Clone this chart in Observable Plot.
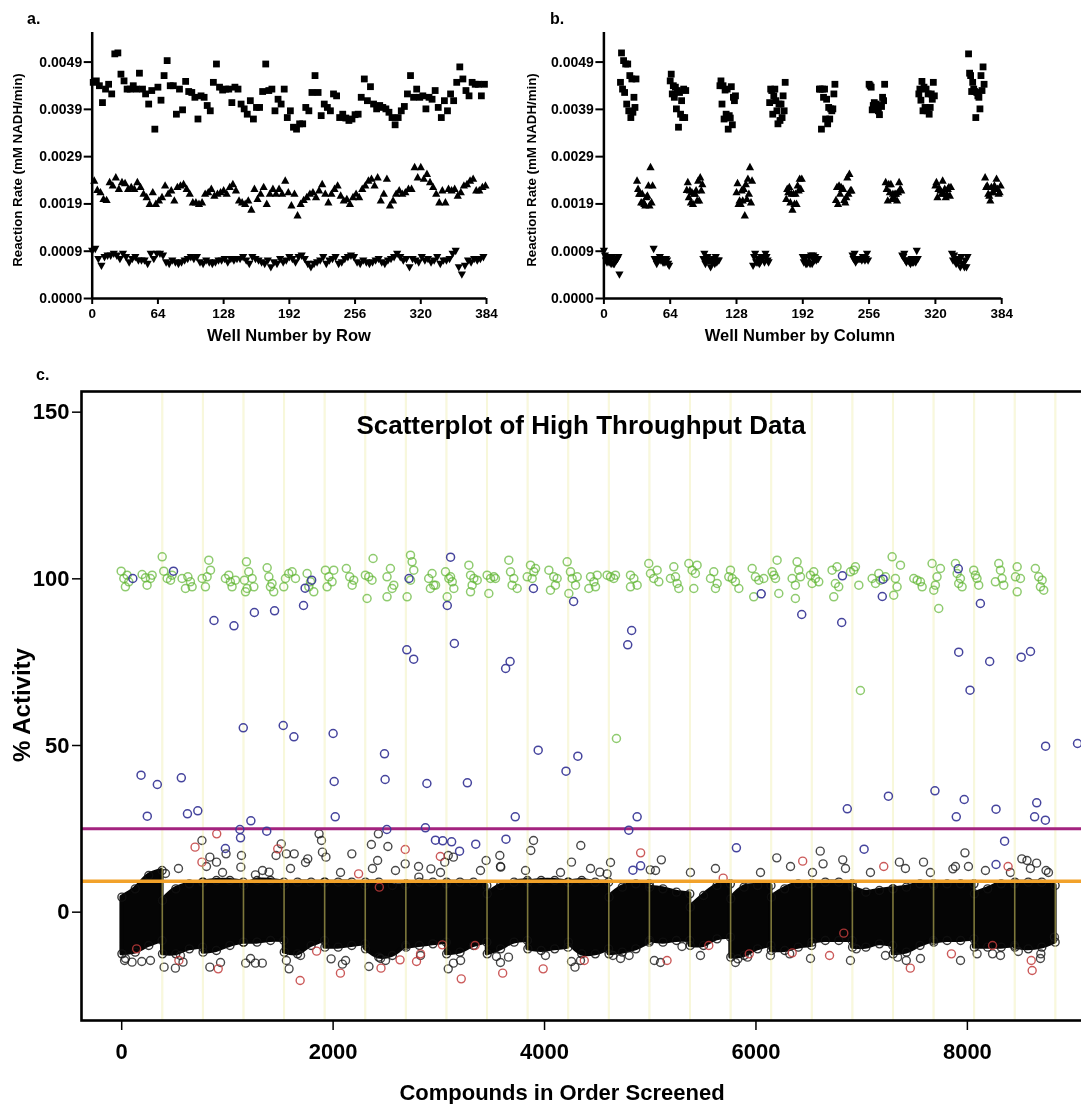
<!DOCTYPE html>
<html><head><meta charset="utf-8">
<script src="https://cdn.jsdelivr.net/npm/d3@7"></script>
<script src="https://cdn.jsdelivr.net/npm/@observablehq/plot@0.6"></script>
<style>
html,body{margin:0;padding:0;background:#fff;}
#root{position:relative;width:1081px;height:1104px;overflow:hidden;background:#fff;}
</style></head>
<body><div id="root"></div>
<script>
// ---------- Panels a & b: control plate (384 wells, 3 control types) ----------
const rateTicks = [0, 0.00098, 0.00196, 0.00294, 0.00392, 0.0049];
const rateTickLabels = ["0.0000","0.0009","0.0019","0.0029","0.0039","0.0049"];
const wellTicks = [0, 64, 128, 192, 256, 320, 384];

// high control (squares), wells 1,4,7,... in row order
const highControl = [
.00448,.00451,.00441,.00406,.00434,.00444,.00424,.00507,.00509,.00465,
.00451,.00434,.00434,.00441,.00434,.00467,.00434,.00424,.00403,.00431,
.00351,.00438,.00411,.00462,.00493,.00441,.00441,.00382,.00434,.00391,
.00450,.00429,.00427,.00417,.00372,.00420,.00417,.00400,.00389,.00448,
.00486,.00438,.00432,.00434,.00434,.00406,.00438,.00434,.00403,.00393,
.00382,.00410,.00372,.00396,.00396,.00429,.00486,.00431,.00434,.00389,
.00413,.00403,.00434,.00375,.00389,.00355,.00351,.00362,.00362,.00396,
.00389,.00427,.00462,.00427,.00379,.00403,.00396,.00389,.00424,.00420,
.00375,.00382,.00374,.00369,.00372,.00381,.00382,.00417,.00455,.00410,
.00439,.00403,.00393,.00400,.00396,.00393,.00386,.00375,.00360,.00375,
.00389,.00398,.00424,.00462,.00417,.00434,.00417,.00420,.00393,.00417,
.00413,.00431,.00396,.00375,.00410,.00389,.00424,.00410,.00448,.00480,
.00455,.00431,.00420,.00448,.00444,.00444,.00420,.00444];
// mid control (triangles), wells 2,5,8,...
const midControl = [
.00244,.00225,.00220,.00206,.00204,.00241,.00234,.00251,.00227,.00241,
.00239,.00227,.00231,.00227,.00241,.00231,.00217,.00210,.00196,.00220,
.00196,.00203,.00210,.00234,.00217,.00224,.00203,.00231,.00234,.00237,
.00227,.00217,.00199,.00199,.00196,.00199,.00217,.00220,.00227,.00213,
.00217,.00220,.00224,.00217,.00231,.00237,.00224,.00203,.00199,.00196,
.00203,.00184,.00227,.00206,.00217,.00231,.00196,.00217,.00227,.00217,
.00227,.00217,.00244,.00220,.00193,.00217,.00172,.00196,.00204,.00210,
.00217,.00220,.00210,.00224,.00237,.00217,.00199,.00217,.00227,.00234,
.00213,.00203,.00206,.00196,.00210,.00217,.00210,.00227,.00234,.00244,
.00248,.00234,.00251,.00203,.00217,.00248,.00193,.00203,.00217,.00224,
.00217,.00220,.00227,.00227,.00272,.00251,.00272,.00248,.00258,.00241,
.00231,.00217,.00199,.00224,.00199,.00227,.00224,.00227,.00213,.00220,
.00234,.00237,.00244,.00248,.00224,.00224,.00231,.00234];
// low control (inverted triangles), wells 0,3,6,...
const lowControl = [
.00099,.00103,.00082,.00068,.00086,.00089,.00089,.00093,.00089,.00082,
.00093,.00086,.00075,.00082,.00086,.00079,.00079,.00079,.00072,.00093,
.00082,
.00093,.00093,.00089,.00075,.00072,.00079,.00075,.00072,.00075,.00079,
.00082,.00086,.00082,.00086,.00075,.00072,.00079,.00075,.00072,.00075,
.00079,
.00079,.00082,.00075,.00082,.00079,.00082,.00082,.00086,.00079,.00072,
.00086,.00082,.00079,.00075,.00072,.00079,.00065,.00075,.00072,.00082,
.00075,
.00079,.00086,.00082,.00075,.00086,.00089,.00082,.00072,.00065,.00072,
.00075,.00079,.00086,.00072,.00079,.00082,.00086,.00072,.00075,.00082,
.00086,
.00089,.00086,.00075,.00072,.00079,.00075,.00072,.00075,.00079,.00082,
.00075,.00072,.00079,.00082,.00086,.00093,.00086,.00079,.00082,.00065,
.00082,
.00079,.00075,.00086,.00079,.00082,.00075,.00079,.00086,.00072,.00079,
.00079,
.00082,.00093,.00099,.00065,.00050,.00068,.00079,.00075,.00082,.00079,
.00082,.00086];

// ---------- Panel c: high-throughput screen ----------
const activityTicks = [0, 50, 100, 150];
const compoundTicks = [0, 2000, 4000, 6000, 8000];
const plateBoundaries = [384,768,1152,1536,1920,2304,2688,3072,3456,3840,4224,4608,4992,5376,5760,6144,6528,6912,7296,7680,8064,8448,8832];
const hitThreshold = 25;     // magenta line
const meanPlus3SD = 9.3;     // orange line

// dense compound cloud: [compound #, lower edge %, upper edge %]
const cloudBand = [
[2,-12.5,4.5],[128,-12,7],[256,-10,11],[382,-8.5,12.5],
[386,-12.5,3.5],[512,-12.5,7],[640,-11,8.5],[766,-10.5,9],
[770,-12,9],[896,-11.5,9.5],[1024,-10,9.5],[1150,-9,9],
[1154,-9,8],[1280,-9,9.5],[1408,-8.5,9.5],[1534,-8.5,9],
[1538,-12,8],[1664,-12.5,9],[1792,-10,9],[1918,-8.5,9],
[1922,-10.5,9],[2048,-10.5,9],[2176,-10,9],[2302,-9.5,8],
[2306,-11,9],[2432,-13.5,9],[2560,-13,8],[2686,-10,8],
[2690,-10.5,8.5],[2816,-10,9],[2944,-9.5,9],[3070,-9,8.5],
[3074,-12.5,9],[3200,-12,9],[3328,-10,9],[3454,-9,8],
[3458,-12.5,5.5],[3584,-11,8],[3712,-9,9],[3838,-8.5,9.5],
[3842,-11,9],[3968,-11.5,9.5],[4096,-11,9.5],[4222,-10.5,9],
[4226,-9,9],[4352,-12.5,9.5],[4480,-12.5,9],[4606,-11,9],
[4610,-12.5,4.5],[4736,-12,7.5],[4864,-11,8.5],[4990,-9,8.5],
[4994,-8.5,7.5],[5120,-9,7],[5248,-8.5,6],[5374,-8.5,5.5],
[5378,-10,1.5],[5504,-10,5],[5632,-8,8],[5758,-7.5,8.5],
[5762,-13.5,4],[5888,-13,7.5],[6016,-11,8],[6142,-10,8],
[6146,-11.5,4.5],[6272,-11.5,7],[6400,-10.5,8.5],[6526,-10,8.5],
[6530,-9,8.5],[6656,-8.5,9],[6784,-8.5,9],[6910,-8.5,8.5],
[6914,-10.5,7.5],[7040,-10.5,6],[7168,-9.5,6.5],[7294,-10,7],
[7298,-12.5,7],[7424,-12,7.5],[7552,-10,8.5],[7678,-8.5,8.5],
[7682,-9,8],[7808,-8.5,8.5],[7936,-8.5,8.5],[8062,-8,8.5],
[8066,-10.5,5.5],[8192,-10.5,7],[8320,-10.5,8.5],[8446,-10,8.5],
[8450,-10.5,9],[8576,-11,9],[8704,-10.5,9],[8830,-9,8]];

// scattered compounds around the dense cloud: [compound #, % activity]
const blackCompounds = [
[759,21.5],[834,16.5],[897,15],[987,17.5],[1133,17],[1127,13.5],[1265,11.2],[1394,12],[1460,17],[1509,20.5],
[1558,17.5],[1632,17.5],[1760,16],[1867,23.5],[1890,21.5],[1899,18],[1932,16.5],[2177,17.5],[2362,20.3],[2428,23.5],
[2421,15.5],[2518,19.7],[2682,14.5],[2811,10.5],[2925,13],[3056,15],[3089,17],[3138,16.5],[3447,15.5],[3577,17],
[3586,13.5],[3870,18.5],[3896,21.5],
[27,-14.5],[98,-15],[190,-14.8],[401,-16.5],[508,-16.8],[580,-15],[834,-16.5],[1173,-15.3],[1265,-15.3],[1330,-15.3],
[1583,-17],[1558,-14.5],[1981,-14],[2088,-15.6],[2339,-16.3],[2496,-14.5],[3089,-17],[3138,-15.3],[3545,-13.3],[3659,-13.5],
[4343,20],[4255,15],[4523,12],[4592,11.5],[5105,15.7],[5000,12.7],[6197,16.3],[6608,18.3],[6635,14.5],[6821,15.7],
[7357,15],[7585,15],[7863,13],[7977,17.8],[8010,13.7],[8515,16],[8564,15.5],[8655,14.7],[8744,12.5],
[4288,-16.5],[4255,-14.8],[4800,-13],[4647,-13],[5038,-14.5],[5300,-10.3],[5829,-14],[5920,-13.5],[6319,-12.5],[6949,-11],
[7340,-13.5],[7422,-14.5],[8092,-12.5],[8238,-12.5],[8482,-11.8],[8695,-12.5],[8824,-7.5],
[414,11.6],[537,13.1],[802,13.7],[954,11.9],[1332,12.5],[1597,13.1],[1739,14.9],[2070,11.9],[2372,13.1],[2590,12.5],
[2808,13.7],[3016,11.9],[3394,12.5],[3583,13.7],[3820,12.5],[4151,11.9],[4435,13.1],[4624,14.9],[5050,12.5],[5380,11.9],
[5617,13.1],[6043,11.9],[6327,13.7],[6535,11.9],[6847,13.1],[7083,11.9],[7414,13.1],[7650,11.9],[7887,13.7],[8171,12.5],
[8407,11.9],[8596,13.1],[8767,11.9],
[36,-13.9],[272,-14.5],[556,-13],[935,-15.1],[1219,-13.9],[1692,-13],[2118,-14.5],[2449,-13.9],[2827,-13],[3206,-14.5],
[3583,-15.1],[4009,-13],[4340,-14.5],[4719,-13.9],[5097,-15.1],[5475,-13],[5806,-15.1],[6137,-13],[6516,-13.9],[6894,-14.5],
[7225,-13],[7556,-13.9],[7935,-14.5],[8313,-13],[8691,-13.9]];

const redCompounds = [
[899,23.5],[694,19.5],[759,15],[1476,19],[2682,18.8],[3014,16.7],[2241,11.5],[2437,7.5],[1688,-20.5],[2069,-18.3],
[2453,-16.8],[2633,-14.3],[3212,-20],[3604,-18.3],[3343,-10],[141,-11],[541,-14.5],[913,-17],[1844,-11.7],[2789,-14.8],
[2827,-12.5],[3033,-9.8],[4909,17.8],[6442,15.3],[7209,13.7],[8385,13.7],[5690,10.2],[5159,-14.5],[4376,-14.5],[3987,-17],
[7460,-16.8],[8613,-17.5],[8604,-14.5],[7849,-12.5],[8238,-10],[6696,-13],[6343,-12.2],[5554,-10],[6831,-6.3],[5937,-12.5]];

const blueCompounds = [
[105,100.1],[490,102.3],[873,87.5],[1062,85.9],[1255,89.9],[1446,90.4],[1720,92],[1735,97.2],[1797,99.6],[2718,100.1],
[3111,106.5],[3080,92],[3147,80.6],[2697,78.7],[2762,75.9],[3674,75.2],[3632,73.1],[3895,97.1],[1150,55.3],[1528,56],
[1629,52.6],[2000,53.6],[183,41.1],[337,38.3],[242,28.8],[564,40.3],[622,29.5],[720,30.4],[1222,27.4],[1118,24.8],
[1124,22.3],[1372,24.3],[981,19.1],[2010,39.2],[2020,28.6],[2486,47.5],[2492,39.8],[2887,38.6],[3270,38.8],[3723,28.6],
[3940,48.6],[2873,25.3],[2508,24.8],[2968,21.6],[3037,21.4],[3121,21.1],[3196,18.3],[3349,20.4],[3635,21.9],
[4275,93.2],[4824,84.5],[4787,80.2],[6050,95.5],[6433,89.3],[6818,100.9],[6811,86.9],[7195,94.7],[7203,99.9],[7914,103],
[8123,92.6],[7918,78],[8211,75.2],[8025,66.6],[8509,76.5],[8597,78.2],[4203,42.3],[4315,46.8],[8740,49.8],[9042,50.6],
[4876,28.6],[4797,24.6],[6864,31],[7253,34.8],[7693,36.4],[7970,33.8],[7895,28.6],[8271,30.9],[8656,32.8],[8636,28.6],
[8738,27.6],[8352,21.3],[5815,19.3],[7023,18.9],[8271,14.3],[4909,13.9],[4836,12.6]];

// positive controls (green)
const greenControls = [
[-5,102.3],[20,100.1],[35,97.6],[67,99.1],[51,101.1],[193,101.3],[225,100.3],[240,98.1],[272,100.1],[288,101.1],
[383,106.6],[398,102.3],[430,100.1],[462,99.6],[476,101.1],[571,100.1],[603,97.1],[626,100.6],[650,99.1],[666,97.6],
[761,100.1],[792,97.6],[824,105.6],[840,102.6],[808,100.6],[981,100.1],[1013,101.1],[1044,97.6],[1076,99.6],[1028,99.1],
[1161,99.6],[1180,105.1],[1202,102.1],[1234,100.1],[1186,97.1],[1250,97.6],[1171,96.1],[1376,103.3],[1392,100.6],[1422,98.6],
[1438,96.1],[1407,97.6],[1549,100.1],[1580,101.6],[1612,102.1],[1533,97.6],[1644,100.1],[1754,101.6],[1786,99.1],[1817,96.1],
[1770,97.6],[1927,102.6],[1959,100.6],[1990,99.1],[2006,102.6],[1943,97.6],[2125,103.1],[2157,100.6],[2180,98.1],[2195,99.6],
[2305,101.1],[2337,100.6],[2368,99.6],[2321,94.1],[2378,106.1],[2510,100.6],[2542,103.1],[2558,97.1],[2574,98.1],[2510,94.6],
[2700,94.6],[2732,107.1],[2747,105.1],[2763,102.6],[2732,99.6],[2904,100.1],[2936,101.6],[2952,98.1],[2920,97.1],[2969,98.1],
[3063,102.1],[3095,100.1],[3127,99.1],[3142,97.1],[3079,94.6],[3111,100.6],[3284,104.1],[3300,101.1],[3331,100.1],[3315,98.1],
[3363,99.6],[3300,96.1],[3457,101.1],[3489,100.1],[3521,100.6],[3473,95.6],[3536,100.1],[3662,105.6],[3678,102.1],[3709,100.1],
[3693,98.1],[3741,97.1],[3836,100.6],[3867,104.1],[3899,102.1],[3883,100.1],[3915,103.1],[4041,102.6],[4087,100.6],[4103,98.1],
[4056,96.6],[4119,100.1],[4214,105.1],[4245,102.1],[4261,100.1],[4293,98.1],[4230,95.6],[4309,100.6],[4435,100.6],[4467,99.1],
[4498,101.1],[4419,97.1],[4482,97.6],[4592,101.1],[4624,100.6],[4655,100.1],[4671,101.1],[4813,101.1],[4845,100.1],[4876,98.1],
[4813,97.6],[4986,104.6],[5002,101.6],[5033,100.1],[5065,102.6],[5081,99.1],[5191,100.1],[5223,103.6],[5254,98.6],[5270,97.1],
[5239,100.6],[5365,104.6],[5396,102.6],[5427,101.6],[5412,97.1],[5443,104.1],[5570,100.1],[5601,102.1],[5633,98.6],[5617,97.1],
[5759,102.6],[5775,100.1],[5806,99.1],[5838,97.1],[5743,100.6],[5964,103.1],[5995,100.6],[6027,99.6],[5979,94.6],[6074,100.1],
[6153,102.1],[6185,100.1],[6200,105.6],[6169,101.1],[6216,95.6],[6342,100.1],[6373,98.1],[6389,105.1],[6405,102.6],[6421,100.6],
[6373,94.1],[6515,101.1],[6547,102.1],[6563,100.1],[6594,99.1],[6531,98.6],[6720,102.6],[6751,98.6],[6767,103.6],[6783,97.6],
[6736,94.6],[6894,102.1],[6941,103.6],[6973,98.1],[6925,102.6],[7099,100.1],[7131,98.6],[7162,101.6],[7178,99.6],[7225,100.6],
[7288,106.6],[7319,100.1],[7335,97.6],[7303,95.1],[7367,104.1],[7493,100.1],[7525,99.6],[7556,99.1],[7572,97.6],[7666,104.6],
[7697,98.1],[7713,100.6],[7745,103.1],[7682,96.6],[7729,91.1],[7887,104.6],[7903,101.6],[7934,100.1],[7950,97.6],[7918,98.6],
[8060,102.6],[8091,100.1],[8107,98.1],[8076,101.1],[8265,99.1],[8297,104.6],[8313,102.6],[8328,100.1],[8344,98.1],[8455,100.6],
[8471,103.6],[8502,100.1],[8471,96.1],[8643,103.1],[8675,100.6],[8707,99.6],[8691,97.6],[8722,96.6],
[6988,66.5],[4680,52.1]];

// ---------- rendering ----------
const FONT = "'Liberation Sans', Arial, Helvetica, sans-serif";
const root = document.getElementById("root");
function place(node, left, top) {
  node.style.position = "absolute"; node.style.left = left + "px"; node.style.top = top + "px";
  root.appendChild(node);
}
function label(text, x, y, size, opts = {}) {
  const d = document.createElement("div");
  d.textContent = text;
  const tx = opts.left ? "0" : "-50%";
  d.style.cssText = `position:absolute;left:${x}px;top:${y}px;font-family:${FONT};font-weight:bold;font-size:${size}px;` +
    `white-space:nowrap;line-height:1;color:#000;transform:translate(${tx},-50%)${opts.rotate ? " rotate(-90deg)" : ""};`;
  root.appendChild(d);
}

// wells in row order: type given by column (col % 3)
const wells = [];
for (let k = 0; k < highControl.length; k++) {
  wells.push({well: 3 * k, value: lowControl[k], type: "low"});
  wells.push({well: 3 * k + 1, value: highControl[k], type: "high"});
  wells.push({well: 3 * k + 2, value: midControl[k], type: "mid"});
}
for (const d of wells) {
  const row = Math.floor(d.well / 24), col = d.well % 24;
  d.byRow = d.well;
  d.byColumn = col * 16 + row;
}

const squareSym = {draw(c) { c.rect(-3.4, -3.4, 6.8, 6.8); }};
const triSym = {draw(c) { c.moveTo(0, -4.4); c.lineTo(4.1, 3); c.lineTo(-4.1, 3); c.closePath(); }};
const invSym = {draw(c) { c.moveTo(0, 4.4); c.lineTo(4.1, -3); c.lineTo(-4.1, -3); c.closePath(); }};

function wellPanel(xKey, width, mLeft, mRight) {
  return Plot.plot({
    width, height: 340, marginLeft: mLeft, marginRight: mRight, marginTop: 32, marginBottom: 42,
    x: {domain: [0, 384], axis: null},
    y: {domain: [0, 0.005513], axis: null},
    style: {fontFamily: FONT, background: "transparent", overflow: "visible"},
    marks: [
      Plot.axisY({ticks: rateTicks, tickFormat: d => rateTickLabels[rateTicks.indexOf(d)], tickSize: 8, tickPadding: 2,
        strokeWidth: 2, fontSize: 14, fontWeight: "bold", label: null}),
      Plot.axisX({ticks: wellTicks, tickFormat: "d", tickSize: 6, tickPadding: 4, strokeWidth: 2,
        fontSize: 13.5, fontWeight: "bold", label: null}),
      Plot.ruleX([0], {stroke: "#000", strokeWidth: 2.5}),
      Plot.ruleY([0], {stroke: "#000", strokeWidth: 2.5}),
      Plot.dot(wells.filter(d => d.type === "high"), {x: xKey, y: "value", symbol: squareSym, fill: "#000", stroke: "none"}),
      Plot.dot(wells.filter(d => d.type === "mid"), {x: xKey, y: "value", symbol: triSym, fill: "#000", stroke: "none"}),
      Plot.dot(wells.filter(d => d.type === "low"), {x: xKey, y: "value", symbol: invSym, fill: "#000", stroke: "none"})
    ]
  });
}

place(wellPanel("byRow", 520, 91.7, 34), 0, 0);
place(wellPanel("byColumn", 561, 83.4, 79.8), 520, 0);

label("a.", 27, 19, 16, {left: true});
label("b.", 550, 19, 16, {left: true});
label("Reaction Rate (mM NADH/min)", 18, 170, 13.3, {rotate: true});
label("Reaction Rate (mM NADH/min)", 532, 170, 13.3, {rotate: true});
label("Well Number by Row", 289, 335, 16.5);
label("Well Number by Column", 800, 335, 16.5);

const cloudEdges = cloudBand.flatMap(d => [[d[0], d[1]], [d[0], d[2]]]);
const plateOf = d => d3.bisectRight(plateBoundaries, d[0]);

const panelC = Plot.plot({
  width: 1081, height: 764,
  marginLeft: 81, marginRight: -4, marginTop: 51, marginBottom: 84,
  x: {domain: [-380.3, 9117.4], axis: null},
  y: {domain: [-32.5, 156.2], axis: null},
  style: {fontFamily: FONT, background: "transparent", overflow: "visible"},
  marks: [
    Plot.ruleX(plateBoundaries, {stroke: "#f3f3d2", strokeWidth: 2}),
    Plot.areaY(cloudBand, {x: d => d[0], y1: d => d[1], y2: d => d[2], z: plateOf, curve: "catmull-rom",
      fill: "#050505", stroke: "#050505", strokeWidth: 4, strokeLinejoin: "round"}),
    Plot.dot(cloudEdges, {x: d => d[0], y: d => d[1], r: 4, stroke: "#111", strokeWidth: 1.4, strokeOpacity: 0.85}),
    Plot.dot(blackCompounds, {x: d => d[0], y: d => d[1], r: 4, stroke: "#1a1a1a", strokeWidth: 1.4, strokeOpacity: 0.8}),
    Plot.dot(redCompounds, {x: d => d[0], y: d => d[1], r: 4, stroke: "#c23c3c", strokeWidth: 1.4, strokeOpacity: 0.85}),
    Plot.ruleX(plateBoundaries, {stroke: "#7a7436", strokeWidth: 1.6, mixBlendMode: "screen"}),
    Plot.ruleY([hitThreshold], {stroke: "#a3237f", strokeWidth: 3}),
    Plot.ruleY([meanPlus3SD], {stroke: "#f2a22a", strokeWidth: 3.5}),
    Plot.dot(greenControls, {x: d => d[0], y: d => d[1], r: 4, stroke: "#5fb532", strokeWidth: 1.5, strokeOpacity: 0.7}),
    Plot.dot(blueCompounds, {x: d => d[0], y: d => d[1], r: 4, stroke: "#3b3a98", strokeWidth: 1.5, strokeOpacity: 0.95}),
    Plot.frame({stroke: "#000", strokeWidth: 2.6}),
    Plot.axisY({ticks: activityTicks, tickFormat: "d", tickSize: 9, tickPadding: 3, strokeWidth: 1.5,
      fontSize: 22, fontWeight: "bold", label: null}),
    Plot.axisX({ticks: compoundTicks, tickFormat: "d", tickSize: 10, tickPadding: 13, strokeWidth: 1.5,
      fontSize: 22, fontWeight: "bold", label: null})
  ]
});
place(panelC, 0, 340);

label("c.", 36, 375, 16, {left: true});
label("Scatterplot of High Throughput Data", 581, 425, 26);
label("% Activity", 22, 705, 24, {rotate: true});
label("Compounds in Order Screened", 562, 1093, 22);
</script>
</body></html>
